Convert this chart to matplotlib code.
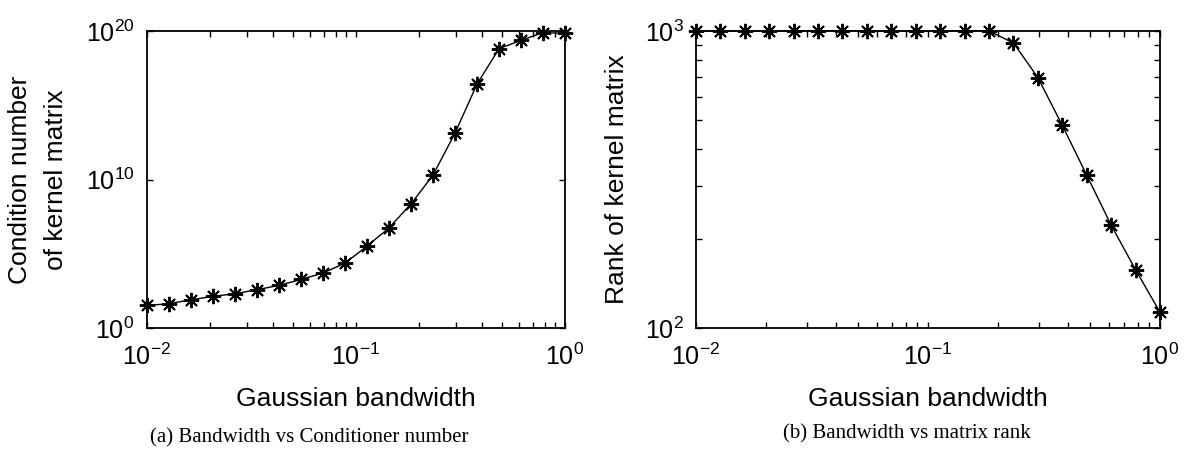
import matplotlib
matplotlib.use("Agg")
import matplotlib.pyplot as plt
from matplotlib.ticker import LogLocator, NullFormatter, FixedLocator

# gaussian bandwidth values (20 log-spaced points)
bandwidth = [0.0100, 0.0127, 0.0162, 0.0207, 0.0264, 0.0336, 0.0428, 0.0546,
             0.0695, 0.0886, 0.1129, 0.1438, 0.1833, 0.2336, 0.2976, 0.3793,
             0.4833, 0.6158, 0.7848, 1.0000]

# log10 of condition number of the kernel matrix
cond_log10 = [1.52, 1.63, 1.90, 2.13, 2.31, 2.58, 2.87, 3.27, 3.70, 4.37,
              5.51, 6.74, 8.35, 10.30, 13.12, 16.42, 18.81, 19.37, 19.89, 19.84]

# rank of the kernel matrix
rank = [1000, 1000, 1000, 1000, 1000, 1000, 1000, 1000, 1000, 1000,
        1000, 1000, 1000, 911, 697, 481, 327, 222, 157, 113]

cond = [10 ** v for v in cond_log10]

sans = "Liberation Sans"
serif = "Liberation Serif"
plt.rcParams["font.family"] = sans
plt.rcParams["mathtext.fontset"] = "custom"
plt.rcParams["mathtext.rm"] = sans

W, H = 1184, 453
fig = plt.figure(figsize=(W / 100, H / 100), dpi=100)

def box(x0, x1, y0, y1):
    return [x0 / W, 1 - y1 / H, (x1 - x0) / W, (y1 - y0) / H]

ax1 = fig.add_axes(box(147, 565, 31, 328))
ax2 = fig.add_axes(box(696, 1160, 31, 328))

marker = (8, 2, 0)
for ax, y in ((ax1, cond), (ax2, rank)):
    ax.plot(bandwidth, y, color="black", lw=1.0, marker=marker,
            markersize=11, markeredgewidth=1.4, clip_on=False)
    ax.set_xscale("log")
    ax.set_yscale("log")
    ax.set_xlim(1e-2, 1)
    for s in ax.spines.values():
        s.set_linewidth(1.3)
    ax.tick_params(which="both", direction="in", top=True, right=True,
                   length=4, width=1.0, labelsize=18)
    ax.tick_params(axis="x", which="both", pad=11)
    ax.tick_params(axis="y", which="both", pad=9)
    ax.xaxis.set_minor_locator(LogLocator(base=10, subs=range(2, 10)))
    ax.xaxis.set_minor_formatter(NullFormatter())
    ax.set_xticks([1e-2, 1e-1, 1])
    ax.set_xticklabels([r"$10^{-2}$", r"$10^{-1}$", r"$10^{0}$"])
    ax.set_xlabel("Gaussian bandwidth", fontsize=19)
    ax.xaxis.set_label_coords(0.5, -0.2)

ax1.set_ylim(1, 1e20)
ax1.yaxis.set_major_locator(FixedLocator([1, 1e10, 1e20]))
ax1.yaxis.set_minor_locator(FixedLocator([]))
ax1.set_yticklabels([r"$10^{0}$", r"$10^{10}$", r"$10^{20}$"])
ax1.set_ylabel("Condition number\nof kernel matrix", fontsize=19, linespacing=1.6)
ax1.yaxis.set_label_coords(-0.19, 0.5)

ax2.set_ylim(100, 1000)
ax2.yaxis.set_major_locator(FixedLocator([100, 1000]))
ax2.yaxis.set_minor_locator(LogLocator(base=10, subs=range(2, 10)))
ax2.yaxis.set_minor_formatter(NullFormatter())
ax2.set_yticklabels([r"$10^{2}$", r"$10^{3}$"])
ax2.set_ylabel("Rank of kernel matrix", fontsize=19)
ax2.yaxis.set_label_coords(-0.145, 0.5)

fig.text(309 / W, 1 - 438 / H, "(a) Bandwidth vs Conditioner number",
         family=serif, fontsize=15, ha="center", va="center")
fig.text(907 / W, 1 - 434 / H, "(b) Bandwidth vs matrix rank",
         family=serif, fontsize=15, ha="center", va="center")

fig.savefig("out.png", dpi=100)
